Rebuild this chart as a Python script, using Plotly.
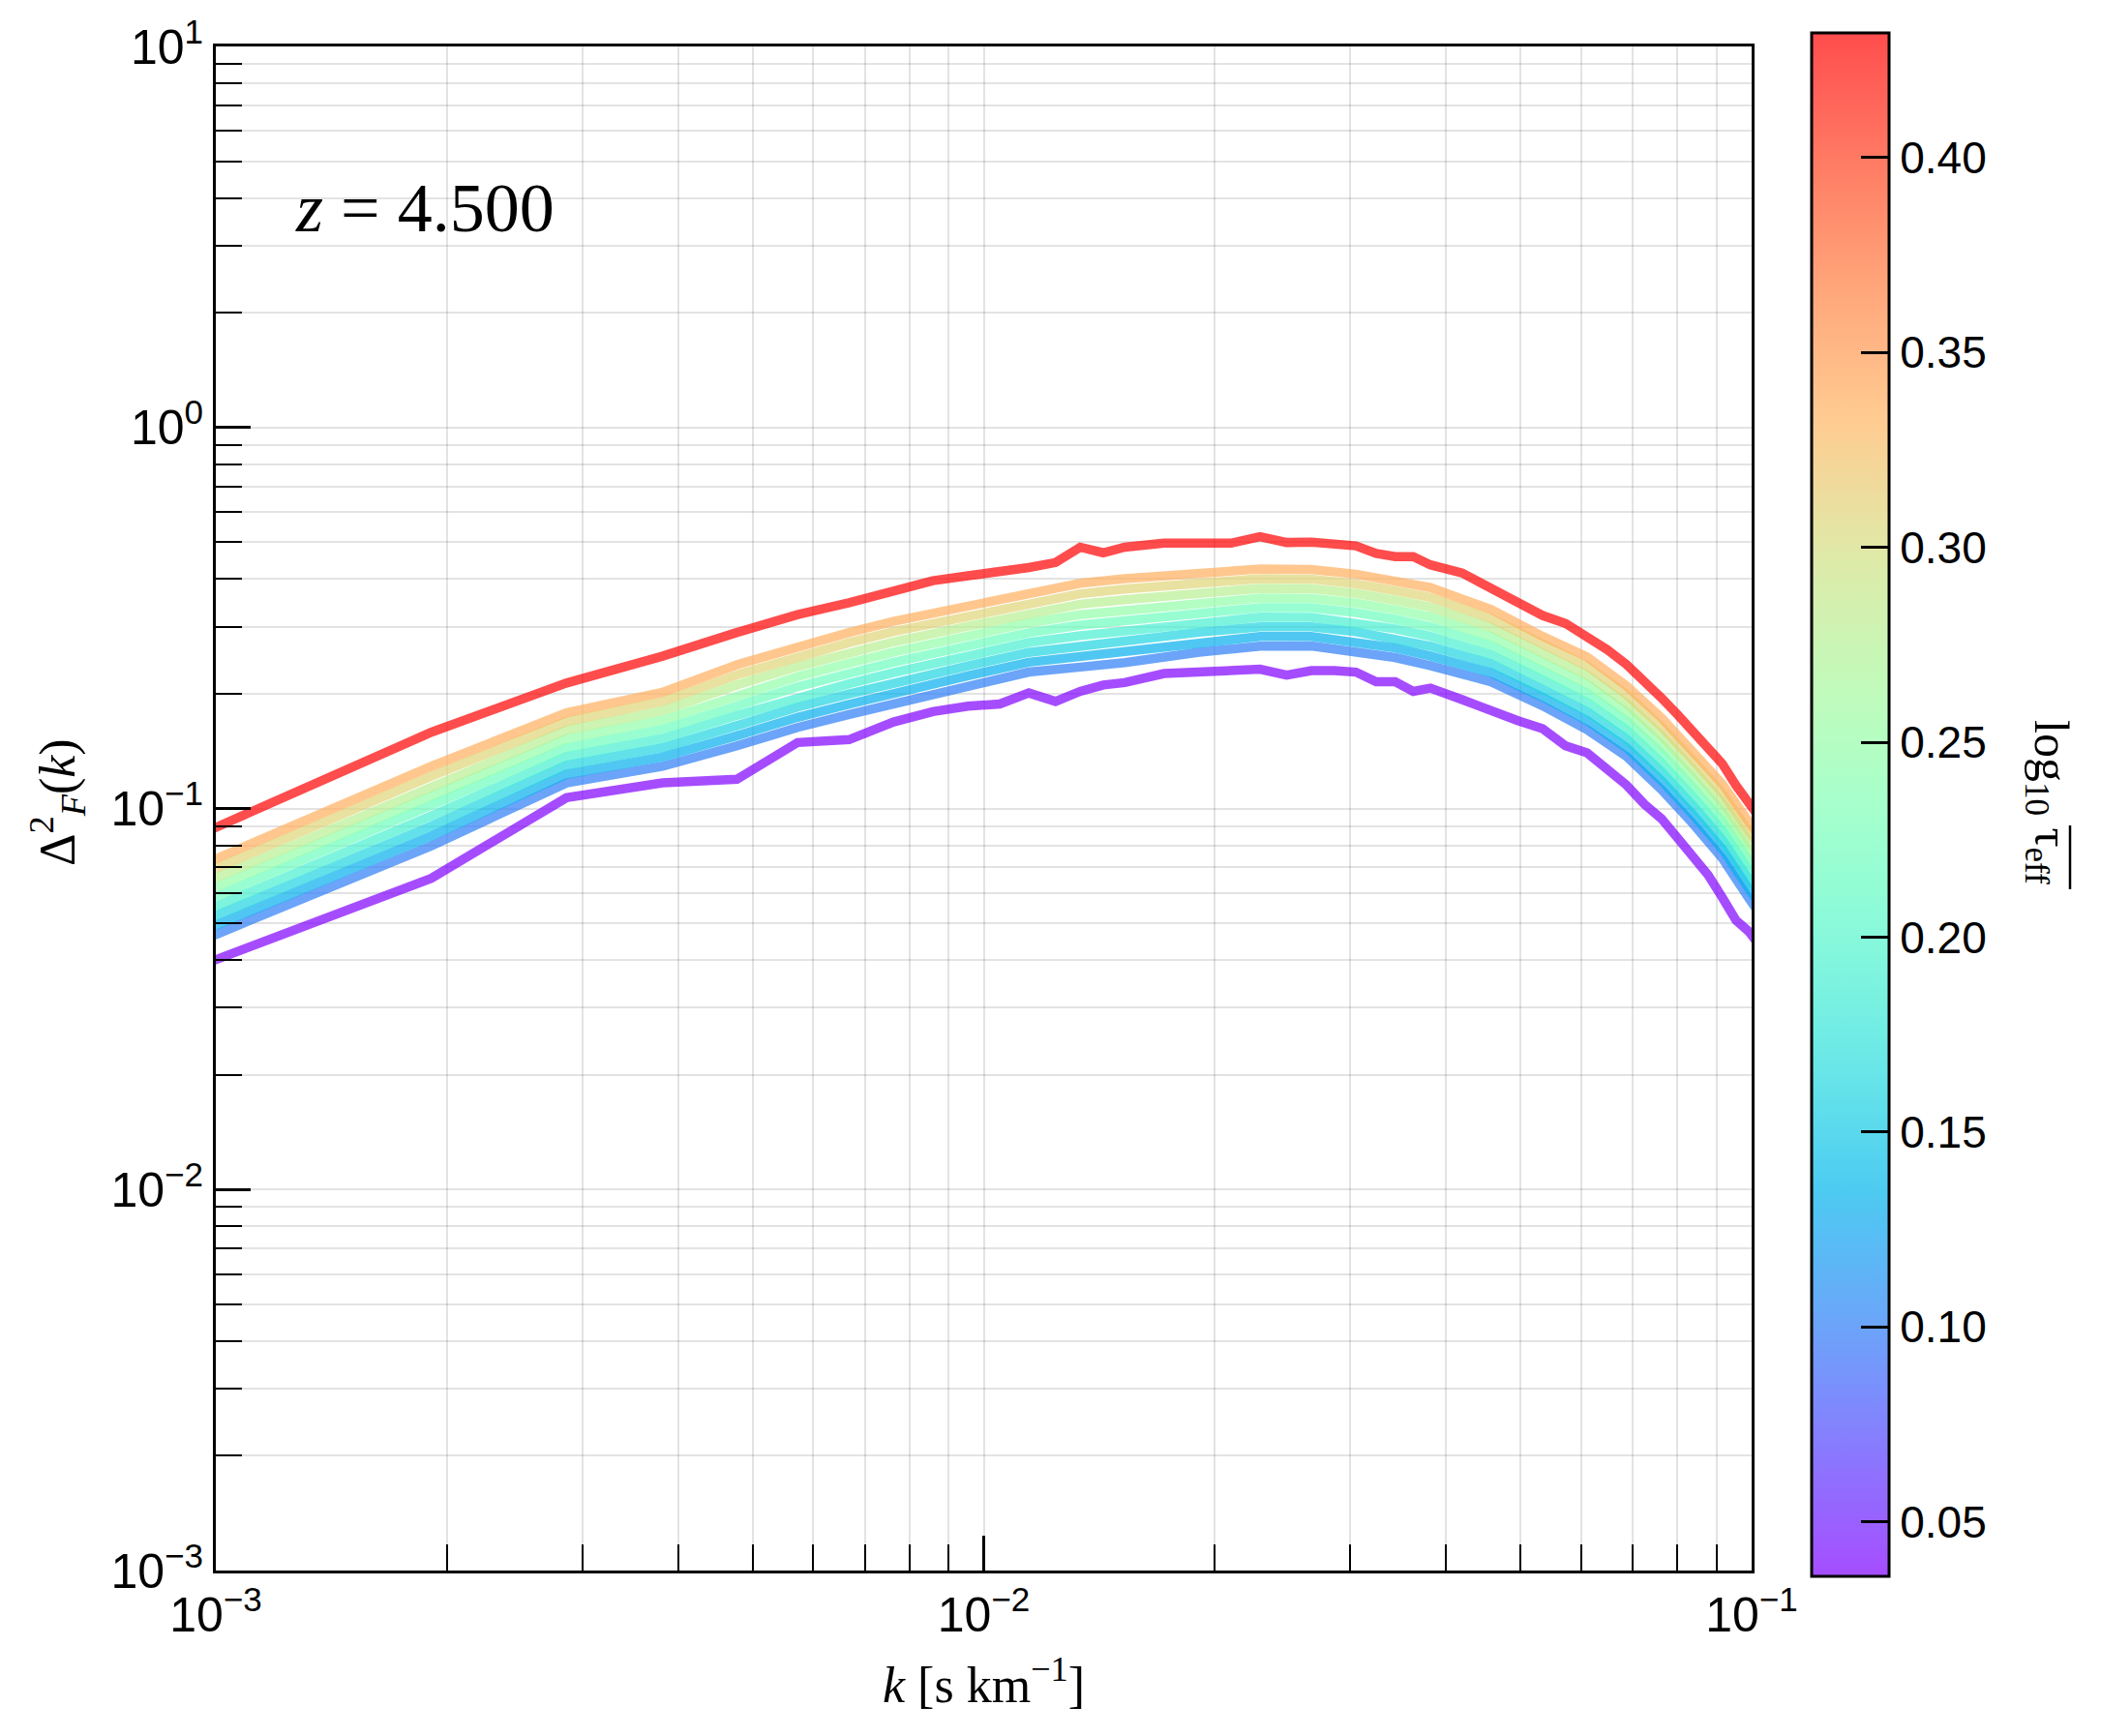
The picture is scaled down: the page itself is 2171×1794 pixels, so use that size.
import math
import plotly.graph_objects as go

# ---------------- data ----------------
# wavenumbers for the two outer curves
k_outer = [0.000954, 0.001908, 0.002862, 0.003816, 0.004770, 0.005724, 0.006678, 0.007632,
           0.008586, 0.009540, 0.010494, 0.011448, 0.012402, 0.013356, 0.014310, 0.015264,
           0.017172, 0.019080, 0.020988, 0.022896, 0.024804, 0.026712, 0.028620, 0.030528,
           0.032436, 0.034344, 0.036252, 0.038160, 0.041976, 0.045792, 0.049608, 0.053424,
           0.057240, 0.061056, 0.064872, 0.068688, 0.072504, 0.076320, 0.080136, 0.083952,
           0.087768, 0.091584, 0.095400, 0.099216, 0.103032]

pk_red = [0.0855, 0.1585, 0.2134, 0.251, 0.2897, 0.3226, 0.3467, 0.373,
          0.396, 0.408, 0.417, 0.429, 0.442, 0.485, 0.469, 0.485,
          0.497, 0.497, 0.497, 0.517, 0.499, 0.500, 0.497, 0.489,
          0.467, 0.458, 0.458, 0.436, 0.415, 0.378, 0.347, 0.321,
          0.306, 0.283, 0.261, 0.239, 0.217, 0.195, 0.176, 0.158,
          0.145, 0.131, 0.115, 0.103, 0.093]

pk_purple = [0.0387, 0.0656, 0.1067, 0.1167, 0.1193, 0.149, 0.1516, 0.1687,
             0.1796, 0.1855, 0.188, 0.201, 0.191, 0.203, 0.211, 0.214,
             0.226, 0.228, 0.232, 0.232, 0.224, 0.230, 0.230, 0.228,
             0.215, 0.215, 0.203, 0.207, 0.193, 0.180, 0.170, 0.162,
             0.146, 0.140, 0.127, 0.1153, 0.1026, 0.094, 0.0835, 0.0752,
             0.0669, 0.0584, 0.0509, 0.0475, 0.043]

# wavenumbers for the band of intermediate curves
k_band = [0.000954, 0.001908, 0.002862, 0.003816, 0.004770, 0.005724, 0.006678, 0.007632,
          0.009540, 0.011448, 0.013356, 0.015264, 0.019080, 0.022896, 0.026712, 0.030528,
          0.034344, 0.038160, 0.045792, 0.053424, 0.061056, 0.068688, 0.076320, 0.083952,
          0.091584, 0.099216, 0.103032]

pk_b0 = [0.0449, 0.0798, 0.1167, 0.129, 0.146, 0.1632, 0.1765, 0.1887, 0.210, 0.228, 0.235, 0.2416,
         0.257, 0.2667, 0.267, 0.259, 0.249, 0.237, 0.215, 0.186, 0.161, 0.137, 0.112, 0.091, 0.074, 0.058, 0.052]
pk_b1 = [0.0475, 0.0847, 0.1231, 0.1364, 0.1552, 0.1735, 0.1878, 0.2008, 0.2230, 0.2420, 0.2504, 0.2574,
         0.2730, 0.2827, 0.2829, 0.2745, 0.2638, 0.2514, 0.2271, 0.1960, 0.1701, 0.1445, 0.1183, 0.0961, 0.0783, 0.0614, 0.0551]
pk_b2 = [0.0503, 0.0900, 0.1298, 0.1443, 0.1650, 0.1845, 0.1998, 0.2136, 0.2367, 0.2568, 0.2667, 0.2742,
         0.2901, 0.2997, 0.2997, 0.2909, 0.2795, 0.2667, 0.2398, 0.2066, 0.1797, 0.1524, 0.1249, 0.1015, 0.0828, 0.0651, 0.0584]
pk_b3 = [0.0532, 0.0956, 0.1368, 0.1526, 0.1755, 0.1962, 0.2125, 0.2273, 0.2513, 0.2726, 0.2842, 0.2922,
         0.3082, 0.3177, 0.3175, 0.3082, 0.2961, 0.2829, 0.2533, 0.2177, 0.1899, 0.1608, 0.1318, 0.1072, 0.0876, 0.0690, 0.0620]
pk_b4 = [0.0564, 0.1015, 0.1443, 0.1613, 0.1866, 0.2086, 0.2261, 0.2419, 0.2668, 0.2893, 0.3028, 0.3113,
         0.3274, 0.3367, 0.3364, 0.3266, 0.3137, 0.3001, 0.2675, 0.2295, 0.2006, 0.1696, 0.1392, 0.1133, 0.0926, 0.0731, 0.0657]
pk_b5 = [0.0597, 0.1078, 0.1522, 0.1706, 0.1984, 0.2218, 0.2406, 0.2573, 0.2833, 0.3070, 0.3226, 0.3316,
         0.3478, 0.3569, 0.3564, 0.3461, 0.3323, 0.3184, 0.2826, 0.2418, 0.2119, 0.1789, 0.1470, 0.1197, 0.0980, 0.0774, 0.0697]
pk_b6 = [0.0632, 0.1144, 0.1605, 0.1804, 0.2109, 0.2358, 0.2559, 0.2738, 0.3008, 0.3258, 0.3437, 0.3533,
         0.3695, 0.3784, 0.3776, 0.3668, 0.3520, 0.3377, 0.2985, 0.2549, 0.2239, 0.1887, 0.1552, 0.1264, 0.1037, 0.0820, 0.0739]
pk_b7 = [0.0669, 0.1215, 0.1692, 0.1908, 0.2242, 0.2508, 0.2723, 0.2913, 0.3193, 0.3458, 0.3661, 0.3764,
         0.3926, 0.4011, 0.4001, 0.3887, 0.3729, 0.3583, 0.3152, 0.2686, 0.2366, 0.1991, 0.1639, 0.1335, 0.1097, 0.0869, 0.0783]
pk_b8 = [0.0708, 0.129, 0.1784, 0.2018, 0.2384, 0.2667, 0.2897, 0.310, 0.339, 0.367, 0.390, 0.401,
         0.417, 0.425, 0.424, 0.412, 0.395, 0.380, 0.333, 0.283, 0.250, 0.210, 0.173, 0.141, 0.116, 0.092, 0.083]

# log10 tau_eff of each curve
tau_purple = 0.036
tau_band = [0.101, 0.131, 0.160, 0.190, 0.219, 0.249, 0.278, 0.308, 0.337]
tau_red = 0.432

cbar_ticks = [0.05, 0.10, 0.15, 0.20, 0.25, 0.30, 0.35, 0.40]
cbar_ticktext = ["0.05", "0.10", "0.15", "0.20", "0.25", "0.30", "0.35", "0.40"]
x_tickvals = [1e-3, 1e-2, 1e-1]
x_ticktext = ["10<sup>−3</sup>", "10<sup>−2</sup>", "10<sup>−1</sup>"]
y_tickvals = [1e-3, 1e-2, 1e-1, 1e0, 1e1]
y_ticktext = ["10<sup>−3</sup>", "10<sup>−2</sup>", "10<sup>−1</sup>", "10<sup>0</sup>", "10<sup>1</sup>"]

# ---------------- styling ----------------
ALPHA = 0.7
cmin = tau_purple
cmax = tau_red
W, H = 2171, 1794
PL, PR, PT, PB = 223, 1810, 46, 1623  # plot area in pixels


def rainbow(f):
    f = min(max(f, 0.0), 1.0)
    r = min(max(abs(2 * f - 0.5), 0), 1)
    g = min(max(math.sin(math.pi * f), 0), 1)
    b = min(max(math.cos(math.pi * f / 2), 0), 1)
    return r, g, b


def line_color(t):
    r, g, b = rainbow((t - cmin) / (cmax - cmin))
    return f"rgba({int(round(r*255))},{int(round(g*255))},{int(round(b*255))},{ALPHA})"


def blended(f):
    r, g, b = rainbow(f)
    c = [int(round((ALPHA * v + (1 - ALPHA)) * 255)) for v in (r, g, b)]
    return f"rgb({c[0]},{c[1]},{c[2]})"


def px(x):
    return (x - PL) / (PR - PL)


def py(y):
    return 1 - (y - PT) / (PB - PT)


colorscale = [[i / 40, blended(i / 40)] for i in range(41)]

LW = 9.5
fig = go.Figure()

fig.add_trace(go.Scatter(x=k_outer, y=pk_purple, mode="lines",
                         line=dict(color=line_color(tau_purple), width=LW), showlegend=False))
band = [pk_b0, pk_b1, pk_b2, pk_b3, pk_b4, pk_b5, pk_b6, pk_b7, pk_b8]
for t, pk in zip(tau_band, band):
    fig.add_trace(go.Scatter(x=k_band, y=pk, mode="lines",
                             line=dict(color=line_color(t), width=LW), showlegend=False))
fig.add_trace(go.Scatter(x=k_outer, y=pk_red, mode="lines",
                         line=dict(color=line_color(tau_red), width=LW), showlegend=False))

# colorbar carrier
fig.add_trace(go.Scatter(
    x=[None], y=[None], mode="markers", showlegend=False,
    marker=dict(color=[cmin], cmin=cmin, cmax=cmax, colorscale=colorscale, showscale=True,
                colorbar=dict(
                    x=px(1872), xanchor="left", xref="paper",
                    y=py(830.5), yanchor="middle",
                    lenmode="pixels", len=1595, thicknessmode="pixels", thickness=80,
                    outlinewidth=3, outlinecolor="black",
                    tickmode="array", tickvals=cbar_ticks, ticktext=cbar_ticktext,
                    ticks="inside", ticklen=30, tickwidth=3, tickcolor="black",
                    tickfont=dict(family="Liberation Sans", size=46, color="black"),
                    ypad=0, xpad=0,
                ))))

GRID = "rgba(0,0,0,0.11)"
minor_vals = [m * 10 ** e for e in range(-3, 1) for m in range(2, 10)]

axis_common = dict(
    type="log", showline=True, linewidth=3, linecolor="black", mirror=True,
    ticks="inside", ticklen=36, tickwidth=3, tickcolor="black",
    showgrid=True, gridcolor=GRID, gridwidth=2, zeroline=False,
    tickfont=dict(family="Liberation Sans", size=50, color="black"),
    tickmode="array",
    minor=dict(tickmode="array", tickvals=minor_vals, ticks="inside", ticklen=27, tickwidth=2,
               tickcolor="black", showgrid=True, gridcolor=GRID, gridwidth=2),
)

fig.update_xaxes(range=[-3, -1], tickvals=x_tickvals, ticktext=x_ticktext, **axis_common)
fig.update_yaxes(range=[-3, 1], tickvals=y_tickvals, ticktext=y_ticktext, **axis_common)

fig.update_layout(
    width=W, height=H,
    margin=dict(l=PL, r=W - PR, t=PT, b=H - PB),
    paper_bgcolor="white", plot_bgcolor="white",
    font=dict(family="Liberation Sans", color="black"),
    annotations=[
        dict(text="<i>z</i> = 4.500", xref="paper", yref="paper",
             x=px(303), y=py(213), xanchor="left", yanchor="middle",
             showarrow=False, font=dict(family="Liberation Serif", size=72, color="black")),
        dict(text="<i>k</i> [s km<sup>−1</sup>]", xref="paper", yref="paper",
             x=0.5, y=py(1738), xanchor="center", yanchor="middle",
             showarrow=False, font=dict(family="Liberation Serif", size=52, color="black")),
        dict(text="Δ<sup>2</sup><sub><i>F</i></sub>(<i>k</i>)", xref="paper", yref="paper",
             x=px(59), y=py(828), xanchor="center", yanchor="middle",
             textangle=-90, showarrow=False,
             font=dict(family="Liberation Serif", size=52, color="black")),
        dict(text="log<sub>10</sub> τ<sub>eff</sub>",
             xref="paper", yref="paper",
             x=px(2116), y=py(828), xanchor="center", yanchor="middle",
             textangle=90, showarrow=False,
             font=dict(family="Liberation Serif", size=50, color="black")),
    ],
    shapes=[
        # overline above tau_eff (text is rotated, so the bar is vertical)
        dict(type="line", xref="paper", yref="paper",
             x0=px(2139), x1=px(2139), y0=py(852), y1=py(918),
             line=dict(color="black", width=2.5)),
    ],
)

fig.write_html("out.html")
